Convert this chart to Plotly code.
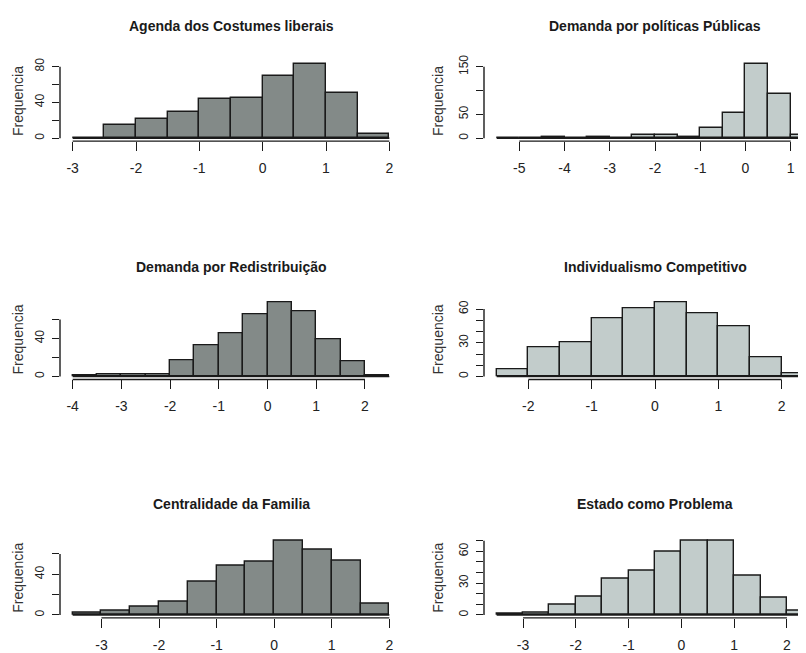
import plotly.graph_objects as go

BIN_WIDTH = 0.5

titles = ["Agenda dos Costumes liberais", "Demanda por políticas Públicas",
          "Demanda por Redistribuição", "Individualismo Competitivo",
          "Centralidade da Familia", "Estado como Problema"]

agenda_start = -3.0
agenda_counts = [0, 15, 21, 29, 44, 45, 70, 83, 51, 5]
politicas_start = -5.5
politicas_counts = [0, 0, 3, 0, 3, 0, 6, 6, 3, 21, 53, 156, 92, 6]
redistrib_start = -4.0
redistrib_counts = [1, 2, 2, 2, 17, 33, 45, 65, 78, 68, 39, 16, 1]
individ_start = -2.5
individ_counts = [6, 26, 30, 52, 61, 66, 56, 45, 17, 3]
familia_start = -3.5
familia_counts = [2, 4, 8, 13, 33, 48, 52, 73, 64, 53, 11]
estado_start = -3.5
estado_counts = [1, 2, 10, 17, 34, 42, 60, 70, 70, 37, 16, 4]

x_ticks = [[-3, -2, -1, 0, 1, 2], [-5, -4, -3, -2, -1, 0, 1],
           [-4, -3, -2, -1, 0, 1, 2], [-2, -1, 0, 1, 2],
           [-3, -2, -1, 0, 1, 2], [-3, -2, -1, 0, 1, 2]]
y_ticks = [[0, 20, 40, 60, 80], [0, 50, 100, 150], [0, 20, 40, 60],
           [0, 10, 20, 30, 40, 50, 60], [0, 20, 40, 60],
           [0, 10, 20, 30, 40, 50, 60, 70]]
y_labels = [["0", "", "40", "", "80"], ["0", "50", "", "150"],
            ["0", "", "40", ""], ["0", "", "", "30", "", "", "60"],
            ["0", "", "40", ""], ["0", "", "", "30", "", "", "60", ""]]

starts = [agenda_start, politicas_start, redistrib_start, individ_start, familia_start, estado_start]
counts = [agenda_counts, politicas_counts, redistrib_counts, individ_counts, familia_counts, estado_counts]

DARK = "#838a88"
LIGHT = "#c2cccb"
EDGE = "#1a1a1a"

# the page body has an 8px margin; lay out in page pixels and convert
OFF = 8
W, H = 806 - OFF, 653 - OFF
REGION_W = 342
col_left = [60 - OFF, 484 - OFF]
row_top = [55.5 - OFF, 296.5 - OFF, 537.5 - OFF]
REGION_H = 81
title_y = [20.5 - OFF, 264 - OFF, 503.5 - OFF]
ylabel_x = [18 - OFF, 438 - OFF]

TITLE_FONT = "Liberation Sans, Arial"
TICK_FONT = "Liberation Sans, Arial"

fig = go.Figure()
layout = dict(width=W, height=H, margin=dict(l=0, r=0, t=0, b=0),
              paper_bgcolor="white", plot_bgcolor="white", showlegend=False,
              bargap=0)
annotations = []
shapes = []

for i in range(6):
    r, c = divmod(i, 2)
    n = i + 1
    xa = "x" if n == 1 else f"x{n}"
    ya = "y" if n == 1 else f"y{n}"
    start = starts[i]
    cnt = counts[i]
    edges = [start + BIN_WIDTH * k for k in range(len(cnt) + 1)]
    centers = [(edges[k] + edges[k + 1]) / 2 for k in range(len(cnt))]
    span = edges[-1] - edges[0]
    lo = edges[0] - 0.04 * span
    hi_full = edges[-1] + 0.04 * span
    left_px = col_left[c]
    right_px = min(left_px + REGION_W, W)
    hi = lo + (hi_full - lo) * (right_px - left_px) / REGION_W
    ymax = max(cnt)
    ylo, yhi = -0.04 * ymax, 1.04 * ymax
    top = row_top[r]
    fill = DARK if c == 0 else LIGHT

    fig.add_trace(go.Bar(x=centers, y=cnt, width=BIN_WIDTH,
                         marker=dict(color=fill, line=dict(color=EDGE, width=1.4)),
                         xaxis=xa, yaxis=ya, hoverinfo="x+y"))
    fig.add_trace(go.Scatter(x=[edges[0], edges[-1]], y=[0, 0], mode="lines",
                             line=dict(color=EDGE, width=1.7),
                             xaxis=xa, yaxis=ya, hoverinfo="skip"))

    xkey = "xaxis" if n == 1 else f"xaxis{n}"
    ykey = "yaxis" if n == 1 else f"yaxis{n}"
    layout[xkey] = dict(domain=[left_px / W, right_px / W], range=[lo, hi],
                        anchor=ya, showgrid=False, zeroline=False, showline=False,
                        tickmode="array", tickvals=x_ticks[i],
                        ticktext=[str(v) for v in x_ticks[i]],
                        ticks="outside", ticklen=9, tickwidth=1.3, tickcolor=EDGE,
                        ticklabelstandoff=5,
                        tickfont=dict(family=TICK_FONT, size=14, color="#222222"),
                        fixedrange=True)
    layout[ykey] = dict(domain=[1 - (top + REGION_H) / H, 1 - top / H],
                        range=[ylo, yhi], anchor=xa, showgrid=False,
                        zeroline=False, showline=False,
                        tickmode="array", tickvals=y_ticks[i], ticktext=y_labels[i],
                        ticks="outside", ticklen=7, tickwidth=1.3, tickcolor=EDGE,
                        tickangle=-90, ticklabelstandoff=3,
                        tickfont=dict(family="Liberation Sans, Arial", size=12, color="#222222"),
                        fixedrange=True)
    # axis lines spanning first to last tick (R style)
    shapes.append(dict(type="line", xref=xa, yref=f"{ya} domain",
                       x0=x_ticks[i][0], x1=x_ticks[i][-1], y0=0, y1=0,
                       line=dict(color=EDGE, width=1.4)))
    shapes.append(dict(type="line", xref=f"{xa} domain", yref=ya,
                       x0=0, x1=0, y0=y_ticks[i][0], y1=y_ticks[i][-1],
                       line=dict(color=EDGE, width=1.4)))
    # title
    annotations.append(dict(text=f"<b>{titles[i]}</b>", xref="paper", yref="paper",
                            x=(left_px + REGION_W / 2) / W, y=1 - title_y[r] / H,
                            xanchor="center", yanchor="middle", showarrow=False,
                            font=dict(family=TITLE_FONT, size=14, color="#1a1a1a")))
    # y label
    annotations.append(dict(text="Frequencia", xref="paper", yref="paper",
                            x=ylabel_x[c] / W, y=1 - (top + REGION_H / 2) / H,
                            xanchor="center", yanchor="middle", showarrow=False,
                            textangle=-90,
                            font=dict(family="Liberation Sans, Arial", size=14, color="#333333")))

layout["annotations"] = annotations
layout["shapes"] = shapes
fig.update_layout(**layout)
fig.write_html("out.html")
